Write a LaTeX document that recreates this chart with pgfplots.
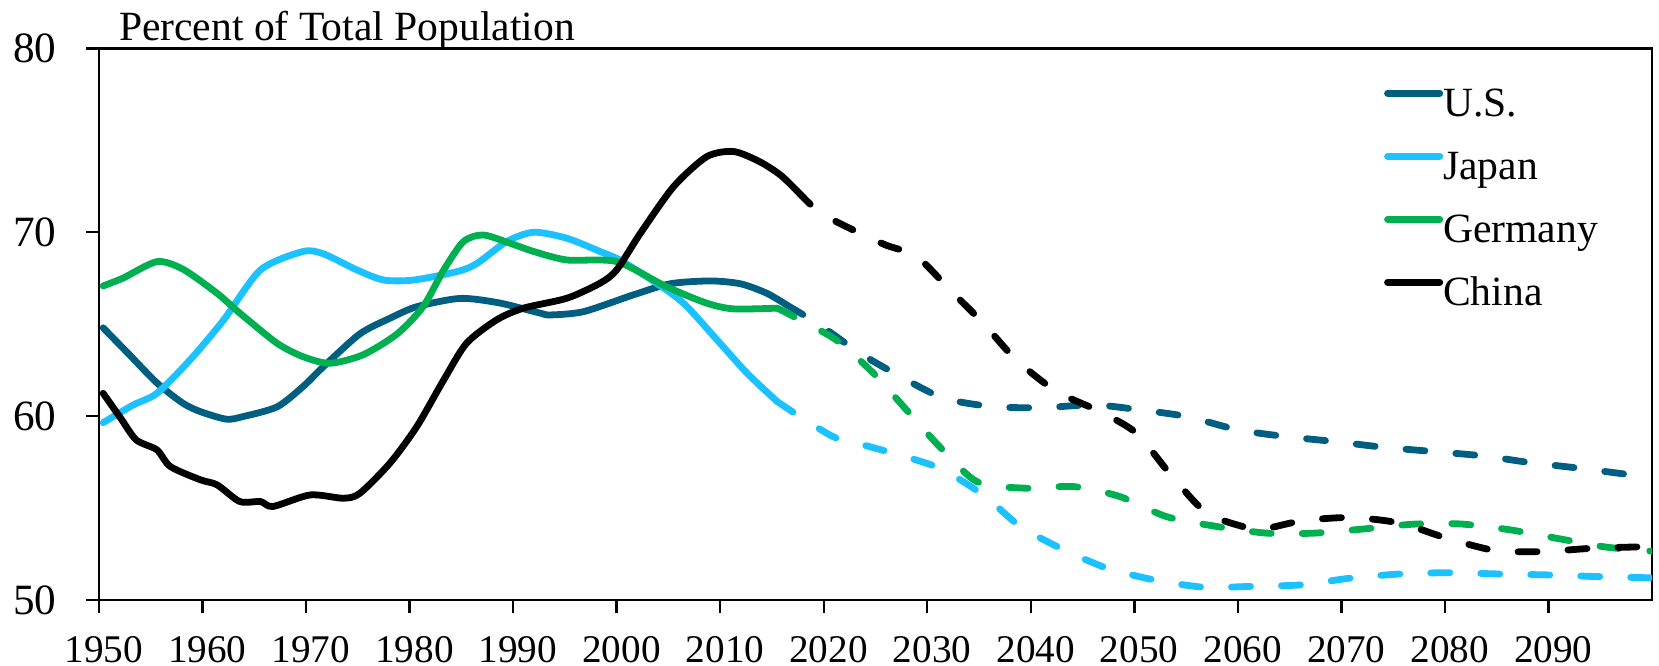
\documentclass[border=0pt]{standalone}
\usepackage{pgfplots}
\pgfplotsset{compat=1.18}
\usepackage{fontspec}
\setmainfont{Liberation Serif}

\definecolor{usblue}{RGB}{0,94,128}
\definecolor{jpblue}{RGB}{28,194,255}
\definecolor{degreen}{RGB}{0,176,80}

% working-age share, solid = history, dashed = projection
\pgfplotstableread{
year val
1950.4 64.8
1953.0 63.3
1955.6 61.8
1958.1 60.7
1959.8 60.24
1962.3 59.83
1963.9 59.97
1967.2 60.5
1969.7 61.6
1971.7 62.7
1975.2 64.47
1978.1 65.32
1980.7 65.95
1984.9 66.4
1988.7 66.15
1992.6 65.6
1993.6 65.5
1996.8 65.68
2001.6 66.59
2005.2 67.2
2009.1 67.35
2012.0 67.19
2014.5 66.68
2016.4 66.05
}\ushist
\pgfplotstableread{
year val
2016.4 66.05
2019.6 64.96
2023.5 63.42
2027.4 62.15
2031.6 60.97
2036.4 60.51
2041.2 60.46
2046.1 60.61
2050.6 60.33
2055.1 59.97
2060.0 59.25
2064.7 58.88
2069.4 58.61
2074.1 58.30
2078.9 58.07
2083.7 57.83
2088.2 57.47
2093.0 57.16
2098.8 56.74
2100 56.65
}\usproj
\pgfplotstableread{
year val
1950.4 59.64
1953.3 60.6
1955.6 61.24
1958.8 63.06
1962.0 65.2
1965.6 67.95
1969.7 68.95
1971.7 68.82
1974.9 67.95
1977.5 67.4
1980.4 67.4
1984.6 67.86
1986.5 68.3
1989.4 69.5
1992.0 70.0
1995.2 69.67
1998.4 68.95
2000.6 68.4
2004.8 66.86
2006.8 65.95
2009.7 64.14
2012.6 62.33
2015.5 60.79
}\jphist
\pgfplotstableread{
year val
2015.5 60.79
2017.7 59.97
2020.9 58.88
2023.2 58.52
2026.7 57.98
2031.2 57.16
2035.4 55.71
2039.0 53.99
2043.2 52.72
2047.4 51.72
2051.9 51.09
2056.7 50.69
2061.5 50.74
2066.2 50.82
2070.8 51.18
2075.7 51.41
2080.5 51.48
2085.2 51.41
2089.8 51.36
2094.6 51.27
2100 51.2
}\jpproj
\pgfplotstableread{
year val
1950.4 67.08
1952.3 67.5
1955.6 68.4
1958.1 67.99
1961.4 66.68
1963.6 65.6
1967.2 63.96
1969.7 63.23
1972.3 62.87
1975.5 63.33
1978.8 64.47
1981.3 65.95
1983.3 67.95
1985.2 69.49
1987.1 69.85
1989.7 69.4
1992.0 68.95
1995.2 68.49
2000.0 68.4
2004.8 67.04
2008.7 66.14
2011.3 65.83
2015.5 65.87
}\dehist
\pgfplotstableread{
year val
2015.5 65.87
2017.1 65.41
2021.2 64.14
2024.8 62.33
2028.0 60.33
2031.2 58.33
2034.8 56.43
2039.3 56.08
2044.2 56.16
2048.6 55.62
2053.1 54.53
2058.0 53.99
2062.8 53.63
2067.3 53.63
2072.0 53.85
2077.0 54.12
2081.5 54.13
2086.3 53.81
2090.8 53.35
2095.6 52.87
2100 52.65
}\deproj
\pgfplotstableread{
year val
1950.4 61.24
1952.1 59.88
1953.6 58.7
1955.6 58.16
1956.9 57.25
1959.8 56.53
1961.4 56.26
1963.6 55.35
1965.6 55.35
1966.8 55.08
1970.4 55.71
1973.6 55.53
1975.2 55.8
1978.1 57.44
1980.7 59.43
1983.3 61.97
1985.5 63.96
1988.4 65.23
1991.0 65.87
1995.2 66.41
1998.4 67.23
2000.0 67.95
2002.3 69.95
2005.5 72.48
2008.7 74.11
2011.3 74.39
2013.8 73.84
2015.8 73.12
2017.4 72.26
}\cnhist
\pgfplotstableread{
year val
2017.4 72.26
2019.3 71.21
2021.2 70.58
2023.5 69.95
2026.0 69.3
2029.0 68.67
2032.2 66.86
2035.4 65.05
2038.6 63.05
2042.5 61.33
2046.7 60.24
2050.2 59.07
2053.4 56.89
2057.0 54.72
2061.2 53.88
2062.5 53.85
2066.3 54.31
2071.0 54.48
2075.7 54.17
2080.2 53.35
2084.9 52.68
2089.5 52.63
2094.3 52.81
2100 52.9
}\cnproj

\begin{document}
\begin{tikzpicture}
\begin{axis}[
    name=ax,
    scale only axis,
    width=388.25pt, height=137.875pt,
    xmin=1950, xmax=2100, ymin=50, ymax=80,
    xtick={1950,1960,...,2090},
    ytick={50,60,70,80},
    tick pos=left,
    tick align=outside,
    major tick length=3.25pt,
    axis line style={line width=0.6pt},
    every tick/.style={black, line width=0.6pt},
    /pgf/number format/assume math mode=true,
    /pgf/number format/1000 sep={},
    xticklabel style={font=\fontsize{9.8}{12}\selectfont, inner sep=0pt,
                      yshift=-5.6pt, xshift=1.2pt},
    yticklabel style={font=\fontsize{10.8}{13}\selectfont, inner sep=0pt, xshift=-7.2pt},
    every axis plot/.append style={line width=1.7pt, line join=round, line cap=round,
                                   smooth, tension=0.45},
    legend cell align=left,
    legend style={at={(rel axis cs:0.8270,0.9296)}, anchor=north west,
                  draw=none, fill=none, inner sep=0pt,
                  font=\fontsize{10.4}{12}\selectfont,
                  row sep=6.55pt, column sep=0pt,
                  nodes={inner sep=0pt, text height=7pt, text depth=2.2pt}},
    legend image code/.code={\draw[#1, solid] (0pt,3.3pt) -- (13.05pt,3.3pt);},
  ]
  \addplot[usblue] table[x=year, y=val] {\ushist};
  \addlegendentry{U.S.}
  \addplot[jpblue] table[x=year, y=val] {\jphist};
  \addlegendentry{Japan}
  \addplot[degreen] table[x=year, y=val] {\dehist};
  \addlegendentry{Germany}
  \addplot[black] table[x=year, y=val] {\cnhist};
  \addlegendentry{China}
  \addplot[usblue, forget plot, dash pattern=on 4.75pt off 7.75pt] table[x=year, y=val] {\usproj};
  \addplot[jpblue, forget plot, dash pattern=on 4.75pt off 7.75pt] table[x=year, y=val] {\jpproj};
  \addplot[degreen, forget plot, dash pattern=on 4.75pt off 7.75pt] table[x=year, y=val] {\deproj};
  \addplot[black, forget plot, dash pattern=on 4.75pt off 7.75pt] table[x=year, y=val] {\cnproj};
\end{axis}
\node[anchor=base west, inner sep=0pt, font=\fontsize{10.4}{12}\selectfont]
  at ([xshift=4.8pt, yshift=1.9pt]ax.north west) {Percent of Total Population};
\pgfresetboundingbox
\path[use as bounding box] ([xshift=-24.75pt, yshift=-16.5pt]ax.south west) rectangle ([xshift=1.75pt, yshift=12.1pt]ax.north east);
\end{tikzpicture}
\end{document}
